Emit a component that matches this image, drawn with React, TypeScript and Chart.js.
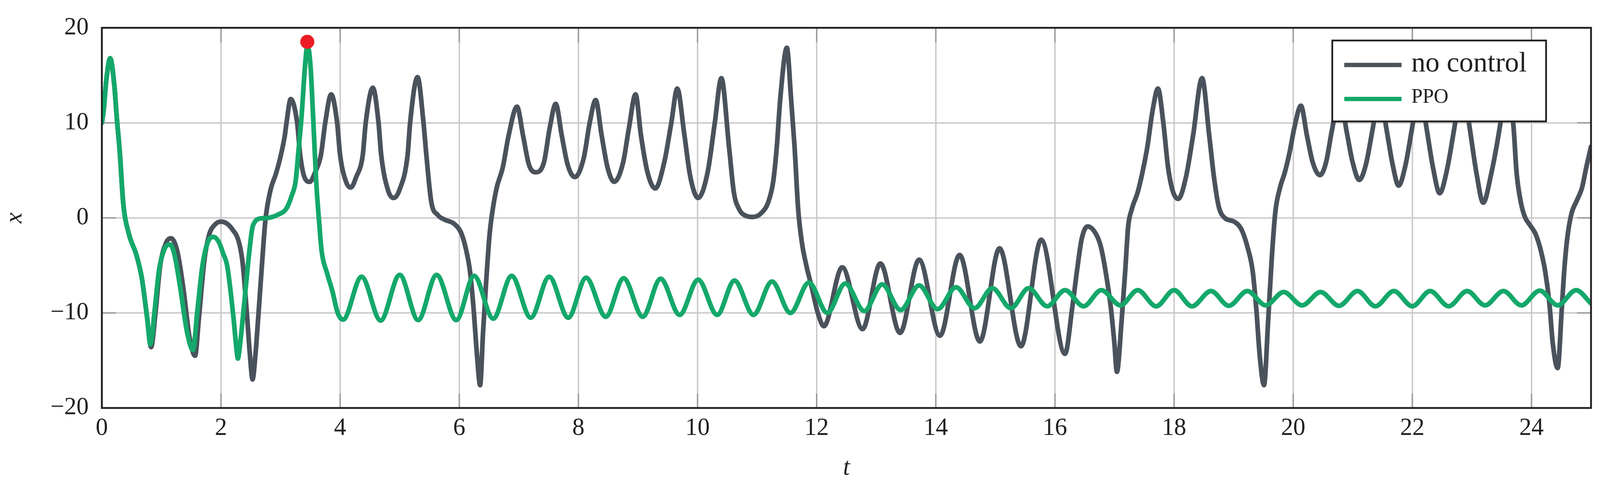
import React, { useEffect, useRef } from "react";
import { Chart, registerables } from "chart.js";

Chart.register(...registerables);

// ---------- data ----------
const tNoControl = [
  0.0, 0.03, 0.075, 0.14, 0.21, 0.25, 0.3, 0.36, 0.45, 0.58,
  0.67, 0.76, 0.827, 0.9, 0.98, 1.08, 1.161, 1.27, 1.37, 1.47,
  1.565, 1.63, 1.72, 1.8, 1.9, 2.0, 2.1, 2.19, 2.294, 2.357,
  2.389, 2.44, 2.487, 2.53, 2.577, 2.625, 2.686, 2.745, 2.83, 2.92,
  2.99, 3.07, 3.1, 3.17, 3.279, 3.33, 3.4, 3.49, 3.58, 3.677,
  3.75, 3.85, 3.95, 4.0, 4.1, 4.18, 4.27, 4.38, 4.43, 4.55,
  4.645, 4.69, 4.81, 4.9, 5.0, 5.133, 5.175, 5.3, 5.4, 5.448,
  5.53, 5.64, 5.76, 5.92, 6.04, 6.12, 6.18, 6.24, 6.3, 6.35,
  6.4, 6.45, 6.51, 6.57, 6.63, 6.73, 6.83, 6.97, 7.07, 7.17,
  7.28, 7.42, 7.52, 7.62, 7.72, 7.82, 7.94, 8.09, 8.19, 8.29,
  8.39, 8.49, 8.6, 8.75, 8.85, 8.96, 9.05, 9.16, 9.29, 9.44,
  9.56, 9.66, 9.78, 9.88, 10.01, 10.17, 10.29, 10.4, 10.53, 10.61,
  10.7, 10.82, 10.93, 11.07, 11.19, 11.27, 11.33, 11.39, 11.5, 11.57,
  11.63, 11.69, 11.75, 11.83, 11.91, 12.02, 12.12, 12.43, 12.77, 13.07,
  13.4, 13.72, 14.07, 14.4, 14.74, 15.07, 15.43, 15.77, 16.17, 16.29,
  16.37, 16.45, 16.55, 16.69, 16.77, 16.85, 16.94, 17.0, 17.04, 17.12,
  17.18, 17.23, 17.29, 17.39, 17.47, 17.55, 17.64, 17.73, 17.82, 17.9,
  17.98, 18.07, 18.2, 18.32, 18.47, 18.59, 18.67, 18.75, 18.85, 19.01,
  19.13, 19.23, 19.32, 19.38, 19.44, 19.51, 19.58, 19.64, 19.7, 19.78,
  19.86, 19.94, 20.02, 20.13, 20.23, 20.33, 20.45, 20.55, 20.65, 20.78,
  20.9, 21.0, 21.11, 21.22, 21.33, 21.45, 21.57, 21.67, 21.77, 21.88,
  22.0, 22.12, 22.24, 22.35, 22.46, 22.58, 22.72, 22.84, 22.96, 23.08,
  23.19, 23.32, 23.48, 23.59, 23.7, 23.75, 23.82, 23.89, 23.98, 24.07,
  24.16, 24.23, 24.3, 24.36, 24.44, 24.51, 24.55, 24.6, 24.67, 24.76,
  24.85, 24.92, 25.0,
];
const xNoControl = [
  10.0, 11.3, 14.5, 16.8, 13.9, 10.6, 7.0, 1.5, -1.6, -3.9,
  -6.3, -10.5, -13.6, -10.0, -5.0, -2.6, -2.15, -3.6, -7.5, -12.5,
  -14.5, -10.5, -4.5, -1.8, -0.7, -0.4, -0.6, -1.2, -2.4, -4.4,
  -6.4, -10.5, -14.5, -17.0, -14.5, -10.5, -5.1, -0.3, 2.9, 4.6,
  6.2, 8.6, 10.0, 12.5, 10.0, 6.6, 4.3, 3.8, 4.8, 6.6,
  10.0, 13.0, 10.0, 6.6, 3.8, 3.2, 4.3, 6.6, 10.0, 13.7,
  10.0, 6.6, 2.8, 2.1, 3.0, 6.6, 10.0, 14.8, 10.0, 6.6,
  1.7, 0.3, -0.2, -0.65, -1.7, -3.5, -5.6, -9.5, -14.6, -17.6,
  -12.0, -6.9, -1.7, 1.2, 3.2, 5.3, 8.7, 11.7, 8.7, 5.6,
  4.8, 5.8, 9.5, 12.0, 8.7, 5.6, 4.3, 6.3, 10.0, 12.4,
  8.7, 5.3, 3.8, 5.8, 9.5, 13.0, 8.7, 4.8, 3.1, 5.8,
  10.0, 13.6, 8.7, 4.3, 2.1, 4.8, 10.0, 14.7, 7.4, 2.7,
  0.9, 0.2, 0.1, 0.5, 1.7, 3.8, 7.4, 12.6, 17.9, 12.6,
  7.4, 0.9, -2.5, -5.1, -7.1, -10.0, -11.4, -5.2, -11.7, -4.8,
  -12.1, -4.4, -12.4, -3.9, -13.0, -3.2, -13.5, -2.3, -14.3, -9.5,
  -5.6, -2.2, -0.9, -1.7, -3.0, -5.6, -9.5, -13.3, -16.2, -10.8,
  -5.6, -0.9, 0.9, 2.7, 4.8, 7.4, 11.3, 13.6, 10.0, 5.3,
  2.8, 2.0, 4.3, 8.7, 14.7, 8.7, 4.3, 1.2, 0.0, -0.4,
  -1.2, -3.0, -5.6, -9.5, -14.6, -17.6, -10.8, -4.3, 0.6, 3.2,
  4.8, 6.9, 9.5, 11.8, 8.7, 5.8, 4.5, 5.8, 9.2, 12.8,
  9.0, 5.8, 4.0, 5.6, 9.2, 13.3, 9.2, 5.6, 3.4, 5.4,
  9.6, 13.8, 9.4, 5.2, 2.6, 5.0, 10.0, 14.3, 9.6, 4.6,
  1.6, 4.5, 10.0, 15.0, 9.5, 4.8, 1.7, 0.1, -0.8, -1.7,
  -3.5, -5.6, -8.9, -13.3, -15.8, -9.5, -5.6, -2.2, 0.4, 1.8,
  3.2, 5.3, 7.5,
];

const tPPO = [
  0.0, 0.03, 0.075, 0.14, 0.21, 0.25, 0.3, 0.36, 0.45, 0.58,
  0.67, 0.76, 0.815, 0.89, 0.96, 1.05, 1.146, 1.22, 1.32, 1.43,
  1.53, 1.6, 1.687, 1.77, 1.871, 1.96, 2.04, 2.106, 2.21, 2.257,
  2.284, 2.315, 2.367, 2.45, 2.525, 2.56, 2.63, 2.79, 2.96, 3.1,
  3.185, 3.254, 3.3, 3.352, 3.411, 3.45, 3.503, 3.547, 3.598, 3.65,
  3.69, 3.78, 3.87, 3.96, 4.05,
  4.36, 4.68, 5.0, 5.31, 5.62, 5.95, 6.25,
  6.57, 6.88, 7.2, 7.51, 7.83, 8.13, 8.46, 8.76, 9.08, 9.38, 9.7, 10.01, 10.33, 10.62, 10.94, 11.25, 11.56, 11.87, 12.18, 12.48,
  12.8, 13.1, 13.41, 13.72, 14.03, 14.34, 14.65, 14.95, 15.26, 15.56, 15.87, 16.17, 16.48, 16.78, 17.1, 17.39, 17.7, 18.0, 18.3, 18.62,
  18.92, 19.23, 19.54, 19.84, 20.15, 20.46, 20.77, 21.08, 21.38, 21.69, 22.0, 22.3, 22.61, 22.92, 23.22, 23.53, 23.83, 24.14, 24.44, 24.75,
  25.0,
];
const xPPO = [
  10.0, 11.3, 14.5, 16.8, 13.9, 10.6, 7.0, 1.5, -1.6, -3.9,
  -6.3, -10.5, -13.3, -9.5, -5.5, -3.3, -2.8, -3.9, -7.5, -12.0,
  -13.9, -10.0, -5.1, -2.7, -2.0, -2.5, -3.8, -5.1, -10.5, -13.6,
  -14.8, -13.6, -10.5, -5.1, -1.1, -0.5, -0.1, 0.0, 0.35, 1.0,
  2.3, 3.9, 7.0, 10.6, 16.0, 18.1, 16.0, 10.6, 3.9, -0.6,
  -3.5, -5.8, -7.7, -10.0, -10.7,
  -6.2, -10.8, -6.0, -10.75, -6.0, -10.75, -6.1,
  -10.6, -6.1, -10.5, -6.2, -10.5, -6.3, -10.4, -6.35, -10.4, -6.4, -10.2, -6.5, -10.2, -6.6, -10.2, -6.7, -10.0, -6.8, -10.0, -6.9,
  -9.8, -7.0, -9.7, -7.1, -9.6, -7.3, -9.5, -7.4, -9.5, -7.4, -9.3, -7.6, -9.3, -7.6, -9.2, -7.6, -9.3, -7.6, -9.3, -7.7,
  -9.25, -7.7, -9.2, -7.8, -9.2, -7.8, -9.25, -7.7, -9.3, -7.7, -9.3, -7.7, -9.3, -7.7, -9.2, -7.7, -9.2, -7.65, -9.2, -7.6,
  -9.0,
];

const markerT = [3.449];
const markerX = [18.53];

const xTickValues = [0, 2, 4, 6, 8, 10, 12, 14, 16, 18, 20, 22, 24];
const yTickValues = [-20, -10, 0, 10, 20];

const seriesLabels = ["no control", "PPO"];
const axisTitles = { x: "t", y: "x" };

// ---------- styling ----------
const REF_W = 4273;
const REF_H = 1259;
const FONT = "'Liberation Serif', 'Times New Roman', serif";
const INK = "#231f20";
const GRAY = "#4a525c";
const GREEN = "#14a86a";
const RED = "#ed1c24";
const LINE_W = 12;

const toPoints = (ts: number[], xs: number[]) => ts.map((t, i) => ({ x: t, y: xs[i] }));
const fmt = (v: number) => (v < 0 ? "\u2212" + Math.abs(v) : String(v));

function makeDecor(sx: number, sy: number, fs: number) {
  return {
    id: "decor",
    beforeDatasetsDraw(chart: any) {
      const { ctx, chartArea: a, scales } = chart;
      ctx.save();
      ctx.strokeStyle = "#9a9a9a";
      ctx.lineWidth = 3.5;
      ctx.beginPath();
      for (const v of xTickValues) {
        const px = scales.x.getPixelForValue(v);
        ctx.moveTo(px, a.bottom);
        ctx.lineTo(px, a.bottom - 37 * sy);
        ctx.moveTo(px, a.top);
        ctx.lineTo(px, a.top + 37 * sy);
      }
      for (const v of yTickValues) {
        const py = scales.y.getPixelForValue(v);
        ctx.moveTo(a.left, py);
        ctx.lineTo(a.left + 37 * sx, py);
        ctx.moveTo(a.right, py);
        ctx.lineTo(a.right - 37 * sx, py);
      }
      ctx.stroke();
      ctx.restore();
    },
    afterDatasetsDraw(chart: any) {
      const { ctx, chartArea: a } = chart;
      ctx.save();
      ctx.strokeStyle = INK;
      ctx.lineWidth = 4.7;
      ctx.strokeRect(a.left, a.top, a.right - a.left, a.bottom - a.top);
      ctx.restore();
    },
    afterDraw(chart: any) {
      const { ctx, chartArea: a } = chart;
      const bw = 571 * sx;
      const bh = 207 * sy;
      const bx = a.right - 120 * sx - bw;
      const by = a.top + 32.5 * sy;
      ctx.save();
      ctx.fillStyle = "#ffffff";
      ctx.fillRect(bx, by, bw, bh);
      ctx.strokeStyle = INK;
      ctx.lineWidth = 4.5;
      ctx.strokeRect(bx, by, bw, bh);
      const items = chart.data.datasets.filter((d: any) => d.label);
      const lineY = [62.5, 149.6];
      const baseY = [79, 159];
      const sizes = [74, 53];
      items.forEach((d: any, i: number) => {
        ctx.strokeStyle = d.borderColor;
        ctx.lineWidth = 11;
        ctx.lineCap = "butt";
        ctx.beginPath();
        ctx.moveTo(bx + 32 * sx, by + lineY[i] * sy);
        ctx.lineTo(bx + 185 * sx, by + lineY[i] * sy);
        ctx.stroke();
        ctx.fillStyle = INK;
        ctx.font = `${sizes[i] * fs}px ${FONT}`;
        ctx.textBaseline = "alphabetic";
        ctx.textAlign = "left";
        ctx.fillText(d.label, bx + 211 * sx, by + baseY[i] * sy);
      });
      ctx.restore();
    },
  };
}

export default function App() {
  const boxRef = useRef<HTMLDivElement | null>(null);
  const canvasRef = useRef<HTMLCanvasElement | null>(null);

  useEffect(() => {
    document.body.style.margin = "0";
    document.body.style.overflow = "hidden";
    const canvas = canvasRef.current;
    const box = boxRef.current;
    if (!canvas || !box) return;
    const w = box.clientWidth || window.innerWidth || REF_W;
    const h = box.clientHeight || window.innerHeight || REF_H;
    const sx = w / REF_W;
    const sy = h / REF_H;
    const fs = (sx + sy) / 2;
    const tickFont = { family: FONT, size: 64 * fs };
    const titleFont = { family: FONT, size: 64 * fs, style: "italic" as const };
    const lineStyle = {
      borderWidth: LINE_W,
      pointRadius: 0,
      cubicInterpolationMode: "monotone" as const,
      borderJoinStyle: "round" as const,
      borderCapStyle: "round" as const,
      fill: false,
    };
    const chart = new Chart(canvas, {
      type: "line",
      data: {
        datasets: [
          {
            label: seriesLabels[0],
            data: toPoints(tNoControl, xNoControl),
            borderColor: GRAY,
            backgroundColor: GRAY,
            ...lineStyle,
            order: 2,
          },
          {
            label: seriesLabels[1],
            data: toPoints(tPPO, xPPO),
            borderColor: GREEN,
            backgroundColor: GREEN,
            ...lineStyle,
            order: 1,
          },
          {
            data: toPoints(markerT, markerX),
            showLine: false,
            pointRadius: 18,
            pointBackgroundColor: RED,
            pointBorderWidth: 0,
            borderColor: RED,
            order: 0,
          } as any,
        ],
      },
      options: {
        animation: false,
        responsive: true,
        maintainAspectRatio: false,
        events: [],
        layout: { padding: { left: 0, right: 24 * sx, top: 49.5 * sy, bottom: 0 } },
        plugins: { legend: { display: false }, tooltip: { enabled: false } },
        scales: {
          x: {
            type: "linear",
            min: 0,
            max: 25,
            afterBuildTicks: (s: any) => {
              s.ticks = xTickValues.map((v) => ({ value: v }));
            },
            afterFit: (s: any) => {
              s.height = 215 * sy;
            },
            grid: { color: "#c8c8c8", lineWidth: 3.5, drawTicks: false },
            border: { display: false },
            ticks: {
              padding: 15 * sy,
              color: INK,
              font: tickFont,
              maxRotation: 0,
              autoSkip: false,
              callback: (v: any) => fmt(Number(v)),
            },
            title: {
              display: true,
              text: axisTitles.x,
              color: INK,
              font: titleFont,
              padding: { top: 0, bottom: 23 * sy },
            },
          },
          y: {
            type: "linear",
            min: -20,
            max: 20,
            afterBuildTicks: (s: any) => {
              s.ticks = yTickValues.map((v) => ({ value: v }));
            },
            afterFit: (s: any) => {
              s.width = 272 * sx;
            },
            grid: { color: "#c8c8c8", lineWidth: 3.5, drawTicks: false },
            border: { display: false },
            ticks: {
              padding: 35 * sx,
              color: INK,
              font: tickFont,
              autoSkip: false,
              callback: (v: any) => fmt(Number(v)),
            },
            title: {
              display: true,
              text: axisTitles.y,
              color: INK,
              font: titleFont,
              padding: { top: 1, bottom: 0 },
            },
          },
        },
      },
      plugins: [makeDecor(sx, sy, fs)],
    });
    return () => chart.destroy();
  }, []);

  return (
    <div
      ref={boxRef}
      style={{ position: "fixed", left: 0, top: 0, width: "100vw", height: "100vh", background: "#ffffff" }}
    >
      <canvas ref={canvasRef} />
    </div>
  );
}
